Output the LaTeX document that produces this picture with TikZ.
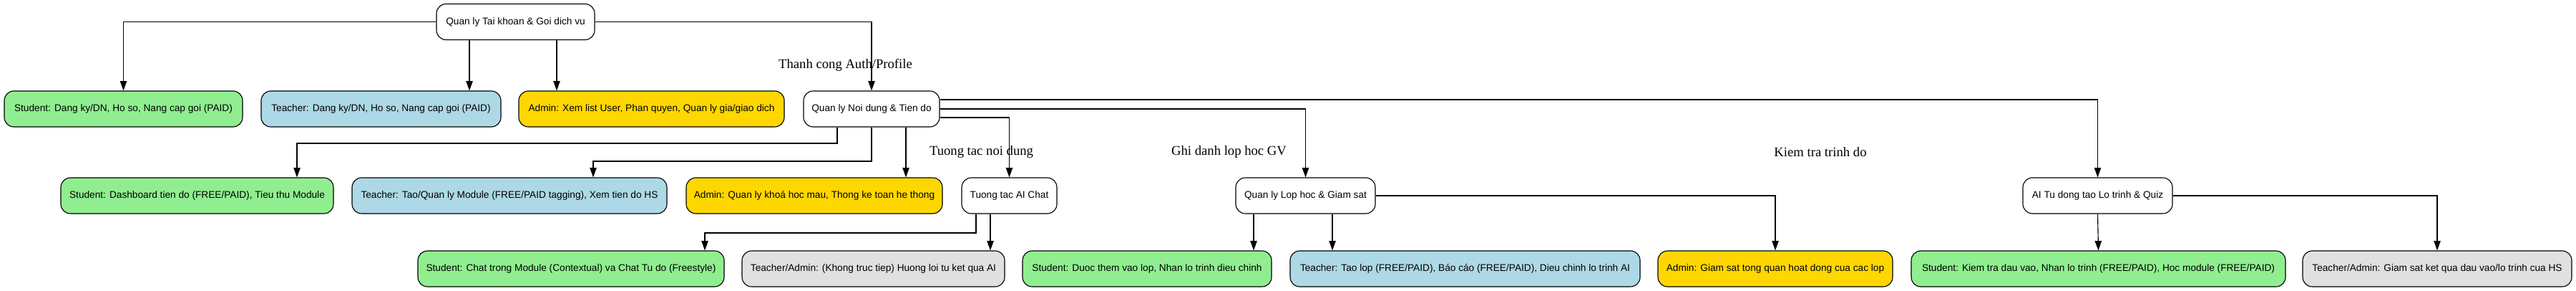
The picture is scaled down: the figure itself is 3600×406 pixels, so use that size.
\documentclass[tikz,border=0pt]{standalone}
\usepackage{fontspec}
\setmainfont{Liberation Sans}
\newfontfamily\lblfont{Liberation Serif}
\usetikzlibrary{arrows.meta}
\definecolor{stugreen}{HTML}{90EE90}
\definecolor{teablue}{HTML}{ADD8E6}
\definecolor{admgold}{HTML}{FFD700}
\definecolor{othgrey}{HTML}{E0E0E0}
\begin{document}
\begin{tikzpicture}[x=0.75pt,y=-0.75pt,
  nd/.style={draw=black,line width=0.85pt,rounded corners=10pt,minimum height=37.5pt,inner sep=0pt,font=\fontsize{10.25}{12}\selectfont},
  wh/.style={nd,fill=white},
  gr/.style={nd,fill=stugreen},
  bl/.style={nd,fill=teablue},
  yl/.style={nd,fill=admgold},
  gy/.style={nd,fill=othgrey},
  arr/.style={-{Triangle[length=10pt,width=7pt]},line width=0.85pt},
  lbl/.style={font=\lblfont\fontsize{14}{16}\selectfont,inner sep=0pt}]
\useasboundingbox (0,0) rectangle (3600,406);
% row 1
\node[wh,minimum width=221*0.75pt] (acc) at (720.5,30.5) {Quan ly Tai khoan \& Goi dich vu};
% row 2
\node[gr,minimum width=333*0.75pt] (s1) at (172.5,152) {Student: Dang ky/DN, Ho so, Nang cap goi (PAID)};
\node[bl,minimum width=335*0.75pt] (t1) at (532.5,152) {Teacher: Dang ky/DN, Ho so, Nang cap goi (PAID)};
\node[yl,minimum width=371*0.75pt] (a1) at (910.5,152) {Admin: Xem list User, Phan quyen, Quan ly gia/giao dich};
\node[wh,minimum width=190*0.75pt] (content) at (1218,152) {Quan ly Noi dung \& Tien do};
% row 3
\node[gr,minimum width=381*0.75pt] (s2) at (275.5,273) {Student: Dashboard tien do (FREE/PAID), Tieu thu Module};
\node[bl,minimum width=440*0.75pt] (t2) at (712,273) {Teacher: Tao/Quan ly Module (FREE/PAID tagging), Xem tien do HS};
\node[yl,minimum width=358*0.75pt] (a2) at (1138,273) {Admin: Quan ly khoá hoc mau, Thong ke toan he thong};
\node[wh,minimum width=133*0.75pt] (chat) at (1410.5,273) {Tuong tac AI Chat};
\node[wh,minimum width=195*0.75pt] (cls) at (1824.5,273) {Quan ly Lop hoc \& Giam sat};
\node[wh,minimum width=209*0.75pt] (ai) at (2931.5,273) {AI Tu dong tao Lo trinh \& Quiz};
% row 4
\node[gr,minimum width=428*0.75pt] (s3) at (798,375) {Student: Chat trong Module (Contextual) va Chat Tu do (Freestyle)};
\node[gy,minimum width=367*0.75pt] (ta1) at (1220.5,375) {Teacher/Admin: (Khong truc tiep) Huong loi tu ket qua AI};
\node[gr,minimum width=348*0.75pt] (s4) at (1603,375) {Student: Duoc them vao lop, Nhan lo trinh dieu chinh};
\node[bl,minimum width=489*0.75pt] (t3) at (2047.5,375) {Teacher: Tao lop (FREE/PAID), Báo cáo (FREE/PAID), Dieu chinh lo trinh AI};
\node[yl,minimum width=328*0.75pt] (a3) at (2481,375) {Admin: Giam sat tong quan hoat dong cua cac lop};
\node[gr,minimum width=523*0.75pt] (s5) at (2932.5,375) {Student: Kiem tra dau vao, Nhan lo trinh (FREE/PAID), Hoc module (FREE/PAID)};
\node[gy,minimum width=376*0.75pt] (ta2) at (3406,375) {Teacher/Admin: Giam sat ket qua dau vao/lo trinh cua HS};
% labels
\node[lbl] (l1) at (1181.5,91) {Thanh cong Auth/Profile};
\node[lbl] (l2) at (1371.5,212) {Tuong tac noi dung};
\node[lbl] (l3) at (1717.5,212) {Ghi danh lop hoc GV};
\node[lbl] (l4) at (2544,212) {Kiem tra trinh do};
% helper coordinates
\coordinate (x656) at (656,0);
\coordinate (x778) at (778,0);
\coordinate (k1) at (1170,200);
\coordinate (x415) at (415,0);
\coordinate (k4) at (829,225);
\coordinate (x1266) at (1266,0);
\coordinate (y164) at (0,164);
\coordinate (y139) at (0,139);
\coordinate (k8) at (1364,325);
\coordinate (x985) at (985,0);
\coordinate (x1384) at (1384,0);
\coordinate (x1752) at (1752,0);
\coordinate (x1862) at (1862,0);
% edges from account
\draw[arr] (acc.west) -| (s1.north);
\draw[arr] (acc.south -| x656) -- (t1.north -| x656);
\draw[arr] (acc.south -| x778) -- (a1.north -| x778);
\draw[arr] (acc.east) -| (content.north);
% edges from content
\draw[arr] (content.south -| k1) -- (k1) -| (s2.north -| x415);
\draw[arr] (content.south) |- (k4) -- (t2.north -| k4);
\draw[arr] (content.south -| x1266) -- (a2.north -| x1266);
\draw[arr] (content.east |- y164) -| (chat.north);
\draw[arr] (content.east) -| (cls.north);
\draw[arr] (content.east |- y139) -| (ai.north);
% edges from chat
\draw[arr] (chat.south -| k8) -- (k8) -| (s3.north -| x985);
\draw[arr] (chat.south -| x1384) -- (ta1.north -| x1384);
% edges from class
\draw[arr] (cls.south -| x1752) -- (s4.north -| x1752);
\draw[arr] (cls.south -| x1862) -- (t3.north -| x1862);
\draw[arr] (cls.east) -| (a3.north);
% edges from ai
\draw[arr] (ai.south) -- (s5.north);
\draw[arr] (ai.east) -| (ta2.north);
\end{tikzpicture}
\end{document}
